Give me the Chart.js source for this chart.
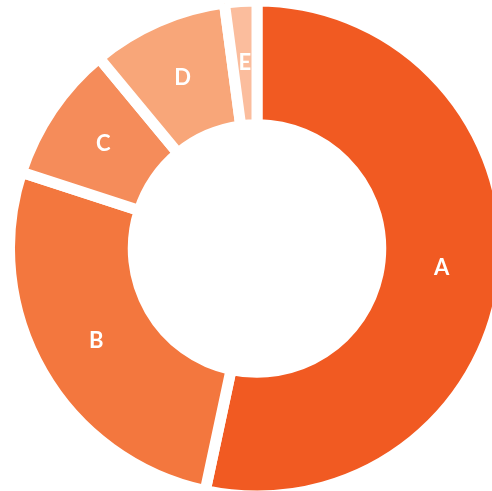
<!DOCTYPE html>
<html>
<head>
<meta charset="utf-8">
<script src="https://cdn.jsdelivr.net/npm/chart.js@4.4.1/dist/chart.umd.min.js"></script>
<style>
  html, body { margin: 0; padding: 0; background: #fff; overflow: hidden; }
  #wrap { position: absolute; left: 0; top: 0; width: 514px; height: 497px; }
</style>
</head>
<body>
<div id="wrap"><canvas id="donutChart"></canvas></div>
<script>
// 카테고리와 값
const labels = ['A', 'B', 'C', 'D', 'E'];
const values = [53.3, 26.6, 9.0, 8.9, 2.1];
const colors = ['#F15A22', '#F3773E', '#F58C5A', '#F8A679', '#FBBD9D'];

// 조각 가운데에 흰색 글자 표시
const sliceLabels = {
    id: 'sliceLabels',
    afterDatasetsDraw(chart) {
        const ctx = chart.ctx;
        const meta = chart.getDatasetMeta(0);
        ctx.save();
        ctx.fillStyle = '#ffffff';
        ctx.font = 'bold 22px Lato, "Open Sans", sans-serif';
        ctx.textAlign = 'center';
        ctx.textBaseline = 'middle';
        meta.data.forEach((arc, i) => {
            const p = arc.tooltipPosition();
            ctx.fillText(labels[i], p.x, p.y);
        });
        ctx.restore();
    }
};

const ctx = document.getElementById('donutChart').getContext('2d');
const donutChart = new Chart(ctx, {
    type: 'doughnut',
    data: {
        labels: labels,
        datasets: [{
            data: values,
            backgroundColor: colors,
            borderColor: '#ffffff',
            borderWidth: 11
        }]
    },
    options: {
        responsive: true,
        maintainAspectRatio: false,
        animation: false,
        radius: 247.5,
        cutout: '50%',
        layout: { padding: 0 },
        plugins: {
            legend: { display: false },
            tooltip: { enabled: false }
        }
    },
    plugins: [sliceLabels]
});
</script>
</body>
</html>
